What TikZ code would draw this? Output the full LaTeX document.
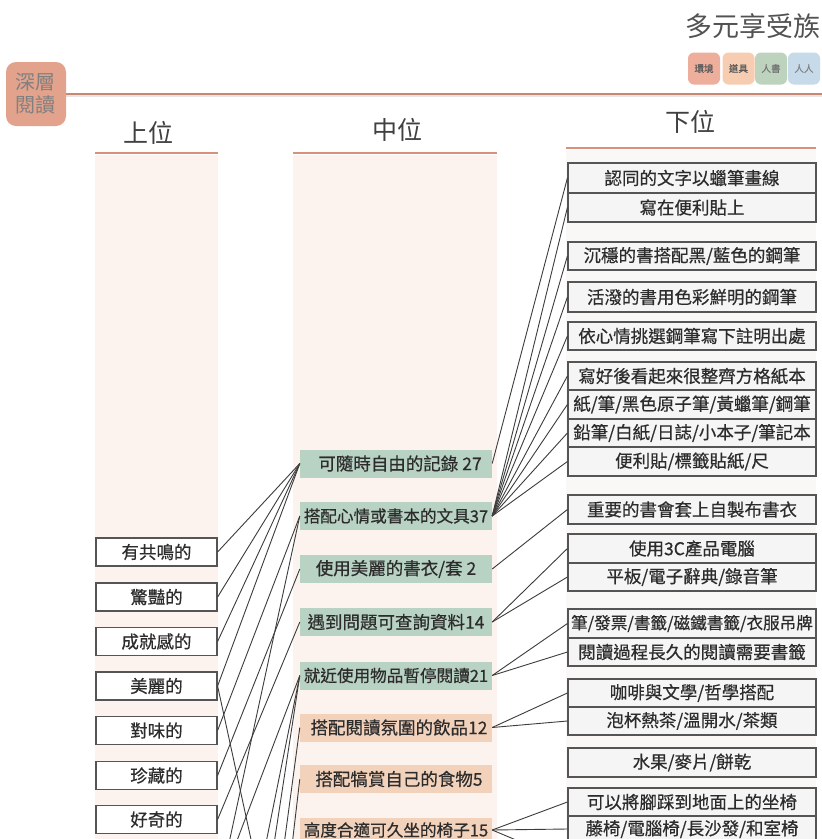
\documentclass[tikz,border=0pt]{standalone}
\usepackage{fontspec}
\newfontfamily\cjk{Noto Sans CJK TC}
\newfontfamily\cjkb[FakeBold=0.5]{Noto Sans CJK TC}
\usetikzlibrary{calc}
\definecolor{salmon}{HTML}{E3A28B}
\definecolor{rule}{HTML}{C98670}
\definecolor{hrule}{HTML}{D8917A}
\definecolor{colbg}{HTML}{FCF3EE}
\definecolor{rightbg}{HTML}{FAF8F6}
\definecolor{midgreen}{HTML}{B8D2C3}
\definecolor{midpeach}{HTML}{F3D2BC}
\definecolor{lgenv}{HTML}{EDAE9C}
\definecolor{lgtool}{HTML}{F6CDB0}
\definecolor{lgbook}{HTML}{BED3BE}
\definecolor{lgpeople}{HTML}{C6DAEA}
\definecolor{ink}{HTML}{2C2C2C}
\definecolor{boxline}{HTML}{555555}
\definecolor{conn}{HTML}{3C3C3C}
\begin{document}
\begin{tikzpicture}[x=1pt,y=-1pt,
  txt/.style={font=\cjkb\fontsize{17.5}{19}\selectfont, text=ink},
  lbox/.style={txt, draw=boxline, line width=1.2pt, fill=white, minimum width=121pt, minimum height=28pt, inner sep=0pt},
  rbox/.style={txt, draw=boxline, line width=1.2pt, fill=black!4, minimum width=248pt, inner sep=0pt},
  mbox/.style={txt, minimum width=192pt, minimum height=28pt, inner sep=0pt},
  mgreen/.style={mbox, fill=midgreen},
  mpeach/.style={mbox, fill=midpeach},
  snug/.style={font=\cjkb\fontsize{16.6}{19}\selectfont},
  head/.style={font=\cjk\fontsize{25}{27}\selectfont, text=black!75},
  legend/.style={rounded corners=6pt, minimum width=32pt, minimum height=32pt, inner sep=0pt, font=\cjkb\fontsize{9.5}{10}\selectfont},
  link/.style={draw=conn, line width=0.9pt}
]
\useasboundingbox (0,0) rectangle (822,839);
\fill[white] (0,0) rectangle (822,839);

% column backgrounds
\fill[colbg] (95,155) rectangle (218,839);
\fill[colbg] (293,155) rectangle (497,839);
\fill[rightbg] (566,150) rectangle (816,839);

% title and legend
\node[font=\cjk\fontsize{27}{29}\selectfont, text=black!68] (title) at (753,26) {多元享受族};
\node[legend, fill=lgenv, text=black!65] (lg1) at (704,68.5) {環境};
\node[legend, fill=lgtool, text=black!65] (lg2) at (738.5,68.5) {道具};
\node[legend, fill=lgbook, text=black!55] (lg3) at (771,68.5) {人書};
\node[legend, fill=lgpeople, text=black!50] (lg4) at (804,68.5) {人人};

% main rule and badge
\draw[black!10, line width=1.5pt] (66,96) -- (822,96);
\draw[rule, line width=2pt] (66,93.5) -- (822,93.5);
\node[fill=salmon, rounded corners=10pt, minimum width=60pt, minimum height=64pt, inner sep=0pt,
      font=\cjk\fontsize{20}{23}\selectfont, text=black!50, align=center] (badge) at (36,94) {深層\\閱讀};

% headers
\node[head] (h1) at (148,133) {上位};
\node[head] (h2) at (397,130) {中位};
\node[head] (h3) at (690,122) {下位};
\draw[hrule, line width=2pt] (95,153) -- (218,153);
\draw[hrule, line width=2pt] (293,153) -- (497,153);
\draw[hrule, line width=2pt] (566,148) -- (816,148);

% left column
\node[lbox] (L1) at (156.5,552) {有共鳴的};
\node[lbox] (L2) at (156.5,597) {驚豔的};
\node[lbox] (L3) at (156.5,641.5) {成就感的};
\node[lbox] (L4) at (156.5,686) {美麗的};
\node[lbox] (L5) at (156.5,730.5) {對味的};
\node[lbox] (L6) at (156.5,775.5) {珍藏的};
\node[lbox] (L7) at (156.5,819.5) {好奇的};

% middle column
\node[mgreen] (A) at (396,463.5) {\hspace*{8pt}可隨時自由的記錄 27};
\node[mgreen, snug] (B) at (396,516) {搭配心情或書本的文具37};
\node[mgreen] (C) at (396,569) {使用美麗的書衣/套 2};
\node[mgreen] (D) at (396,622) {遇到問題可查詢資料14};
\node[mgreen, snug] (E) at (396,675.5) {就近使用物品暫停閱讀21};
\node[mpeach] (F) at (396,727.5) {\hspace*{6pt}搭配閱讀氛圍的飲品12};
\node[mpeach] (G) at (396,779) {\hspace*{6pt}搭配犒賞自己的食物5};
\node[mpeach, snug, minimum height=24pt] (H) at (396,830) {高度合適可久坐的椅子15};

% right column
\node[rbox, minimum height=30pt] (r1) at (692,178) {認同的文字以蠟筆畫線};
\node[rbox, minimum height=29pt] (r2) at (692,207.5) {寫在便利貼上};
\node[rbox, minimum height=28pt] (r3) at (692,256) {沉穩的書搭配黑/藍色的鋼筆};
\node[rbox, minimum height=30pt] (r4) at (692,297) {活潑的書用色彩鮮明的鋼筆};
\node[rbox, minimum height=28pt] (r5) at (692,336) {依心情挑選鋼筆寫下註明出處};
\node[rbox, minimum height=28pt] (r6) at (692,376) {寫好後看起來很整齊方格紙本};
\node[rbox, minimum height=29pt] (r7) at (692,404.5) {紙/筆/黑色原子筆/黃蠟筆/鋼筆};
\node[rbox, minimum height=28pt] (r8) at (692,433) {鉛筆/白紙/日誌/小本子/筆記本};
\node[rbox, minimum height=29pt] (r9) at (692,461.5) {便利貼/標籤貼紙/尺};
\node[rbox, minimum height=29pt] (r10) at (692,509.5) {重要的書會套上自製布書衣};
\node[rbox, minimum height=29pt] (r11) at (692,548.5) {使用3C產品電腦};
\node[rbox, minimum height=28pt] (r12) at (692,577) {平板/電子辭典/錄音筆};
\node[rbox, minimum height=29pt, snug] (r13) at (692,623.5) {筆/發票/書籤/磁鐵書籤/衣服吊牌};
\node[rbox, minimum height=28pt] (r14) at (692,652) {閱讀過程長久的閱讀需要書籤};
\node[rbox, minimum height=28pt] (r15) at (692,693) {咖啡與文學/哲學搭配};
\node[rbox, minimum height=28pt] (r16) at (692,721) {泡杯熱茶/溫開水/茶類};
\node[rbox, minimum height=29pt] (r17) at (692,762.5) {水果/麥片/餅乾};
\node[rbox, minimum height=28pt] (r18) at (692,802) {可以將腳踩到地面上的坐椅};
\node[rbox, minimum height=26pt] (r19) at (692,829) {藤椅/電腦椅/長沙發/和室椅};

% free ends beyond the visible area
\coordinate (x4) at (262,890);
\coordinate (s1) at (221,880);
\coordinate (s2) at (222,880);
\coordinate (s3) at (258.5,880);
\coordinate (s4) at (268.5,880);
\coordinate (s5) at (279.3,880);
\coordinate (s6) at (288,880);
\coordinate (hx) at (566,861);

% left -> middle connectors
\draw[link] (L1.east) -- (A.west);
\draw[link] (L2.east) -- (A.west);
\draw[link] (L3.east) -- (A.west);
\draw[link] (L4.east) -- (A.west);
\draw[link] (L4.east) -- (x4);
\draw[link] (L5.east) -- (B.west);
\draw[link] (L6.east) -- (C.west);
\draw[link] (L7.east) -- (D.west);
\draw[link] (s1) -- (B.west);
\draw[link] (s2) -- (E.west);
\draw[link] (s3) -- (E.west);
\draw[link] (s4) -- (E.west);
\draw[link] (s5) -- (F.west);
\draw[link] (s6) -- (G.west);

% middle -> right connectors
\draw[link] (A.east) -- (r1.west);
\foreach \r in {r2,r3,r4,r5,r6,r7,r8,r9} \draw[link] (B.east) -- (\r.west);
\draw[link] (C.east) -- (r10.west);
\draw[link] (D.east) -- (r11.west);
\draw[link] (D.east) -- (r12.west);
\draw[link] (E.east) -- (r13.west);
\draw[link] (E.east) -- (r14.west);
\draw[link] (F.east) -- (r15.west);
\draw[link] (F.east) -- (r16.west);
\draw[link] (H.east) -- (r18.west);
\draw[link] (H.east) -- (r19.west);
\draw[link] (H.east) -- (hx);
\end{tikzpicture}
\end{document}
